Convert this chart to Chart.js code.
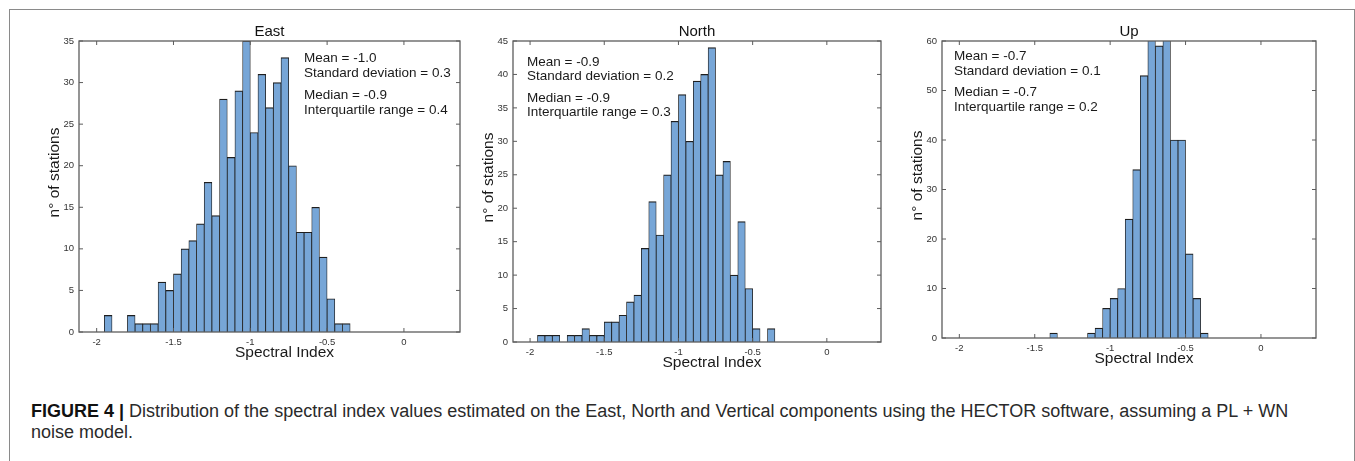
<!DOCTYPE html>
<html>
<head>
<meta charset="utf-8">
<script src="https://cdn.jsdelivr.net/npm/chart.js@4.4.1/dist/chart.umd.min.js"></script>
<style>
  html, body { margin: 0; padding: 0; background: #fff; }
  body { width: 1355px; height: 461px; position: relative; overflow: hidden; font-family: "Liberation Sans", Arial, Helvetica, sans-serif; }
  #frame { position: absolute; left: 9px; top: 9px; width: 1344px; height: 470px; border: 1px solid #8a8a8a; border-bottom: none; }
  canvas { position: absolute; top: 0; }
  #caption { position: absolute; left: 31px; top: 401px; font-size: 18px; line-height: 21px; color: #2a2a2a; white-space: nowrap; }
  #caption b { color: #111; }
</style>
</head>
<body>
<div id="frame"></div>
<canvas id="east"></canvas>
<canvas id="north"></canvas>
<canvas id="up"></canvas>
<div id="caption"><b>FIGURE 4 |</b> Distribution of the spectral index values estimated on the East, North and Vertical components using the HECTOR software, assuming a PL + WN<br>noise model.</div>

<script>
// ===== DATA =====
// left edge of each histogram bin (bin width 0.05)
const binStart = [-1.95, -1.90, -1.85, -1.80, -1.75, -1.70, -1.65, -1.60, -1.55, -1.50, -1.45,
                  -1.40, -1.35, -1.30, -1.25, -1.20, -1.15, -1.10, -1.05, -1.00, -0.95, -0.90,
                  -0.85, -0.80, -0.75, -0.70, -0.65, -0.60, -0.55, -0.50, -0.45, -0.40];
const binWidth = 0.05;

const eastCounts  = [2, 0, 0, 2, 1, 1, 1, 6, 5, 7, 10, 11, 13, 18, 14, 28, 21, 29, 35, 24, 31, 27, 30, 33, 20, 12, 12, 15, 9, 4, 1, 1];
const northCounts = [1, 1, 1, 0, 1, 1, 2, 1, 1, 3, 3, 4, 6, 7, 14, 21, 16, 25, 33, 37, 30, 39, 40, 44, 25, 27, 10, 18, 8, 2, 0, 2];
const upCounts    = [0, 0, 0, 0, 0, 0, 0, 0, 0, 0, 0, 1, 0, 0, 0, 0, 1, 2, 6, 8, 10, 24, 34, 53, 62, 59, 62, 40, 40, 17, 8, 1];

const xTicks = [-2, -1.5, -1, -0.5, 0];
const xRange = [-2.115, 0.365];

const eastStats  = [["Mean = -1.0", "Standard deviation = 0.3"], ["Median = -0.9", "Interquartile range = 0.4"]];
const northStats = [["Mean = -0.9", "Standard deviation = 0.2"], ["Median = -0.9", "Interquartile range = 0.3"]];
const upStats    = [["Mean = -0.7", "Standard deviation = 0.1"], ["Median = -0.7", "Interquartile range = 0.2"]];

const FONT = '"Liberation Sans", Arial, Helvetica, sans-serif';

// ===== MATLAB-LIKE AXES BOX, INWARD TICKS, TEXT =====
const matlabAxes = {
  id: "matlabAxes",
  afterDatasetsDraw(chart) {
    const { ctx, chartArea: a, scales: { x, y } } = chart;
    ctx.save();
    ctx.strokeStyle = "#5c5c5c";
    ctx.lineWidth = 1.3;
    ctx.strokeRect(a.left, a.top, a.right - a.left, a.bottom - a.top);
    ctx.lineWidth = 1;
    ctx.beginPath();
    x.ticks.forEach(t => {
      const px = x.getPixelForValue(t.value);
      ctx.moveTo(px, a.bottom); ctx.lineTo(px, a.bottom - 4);
      ctx.moveTo(px, a.top);    ctx.lineTo(px, a.top + 4);
    });
    y.ticks.forEach(t => {
      const py = y.getPixelForValue(t.value);
      ctx.moveTo(a.left, py);  ctx.lineTo(a.left + 4, py);
      ctx.moveTo(a.right, py); ctx.lineTo(a.right - 4, py);
    });
    ctx.stroke();
    ctx.restore();
  },
  afterDraw(chart, args, opts) {
    const { ctx, chartArea: a } = chart;
    ctx.save();
    ctx.fillStyle = "#1a1a1a";
    ctx.textBaseline = "middle";

    // stats box
    ctx.font = "13.5px " + FONT;
    ctx.textAlign = "left";
    let k = 0;
    opts.stats.forEach(group => group.forEach(line => {
      ctx.fillText(line, a.left + opts.statsX, a.top + opts.statsY[k++]);
    }));

    // axis titles
    ctx.font = "15.5px " + FONT;
    ctx.textAlign = "center";
    ctx.fillText("Spectral Index", (a.left + a.right) / 2 + 15, a.bottom + 21);
    ctx.translate(a.left - 24, (a.top + a.bottom) / 2 - 14);
    ctx.rotate(-Math.PI / 2);
    ctx.fillText("n\u00b0 of stations", 0, 0);
    ctx.restore();
  }
};

function makePanel(id, title, counts, yMax, yStep, stats, box) {
  const canvas = document.getElementById(id);
  canvas.width = box.R - box.L + 70;
  canvas.height = box.B + 40;
  canvas.style.left = (box.L - 60) + "px";

  const points = binStart.map((b, i) => ({ x: b + binWidth / 2, y: counts[i] > 0 ? counts[i] : null }));

  return new Chart(canvas.getContext("2d"), {
    type: "bar",
    data: {
      datasets: [{
        data: points,
        backgroundColor: "#77a6d7",
        borderColor: "#1e1e1e",
        borderWidth: { left: 0.8, right: 0.8, top: 1.2, bottom: 0 },
        borderSkipped: false,
        barPercentage: 1,
        categoryPercentage: 1,
        clip: 0
      }]
    },
    plugins: [matlabAxes],
    options: {
      responsive: false,
      animation: false,
      events: [],
      layout: { padding: { left: 0, right: 10, top: box.T - 18, bottom: 0 } },
      scales: {
        x: {
          type: "linear",
          offset: false,
          min: xRange[0],
          max: xRange[1],
          afterBuildTicks: s => { s.ticks = xTicks.map(v => ({ value: v })); },
          afterFit: s => { s.height = 40; },
          grid: { display: false, drawTicks: false, offset: false },
          border: { display: false },
          ticks: {
            padding: 5,
            color: "#333",
            font: { family: FONT, size: 9.5 },
            maxRotation: 0,
            callback: v => String(v)
          }
        },
        y: {
          min: 0,
          max: yMax,
          afterFit: s => { s.width = 60; },
          grid: { display: false, drawTicks: false },
          border: { display: false },
          ticks: {
            stepSize: yStep,
            padding: 5,
            color: "#333",
            font: { family: FONT, size: 9.5 }
          }
        }
      },
      plugins: {
        legend: { display: false },
        tooltip: { enabled: false },
        title: {
          display: true,
          text: title,
          fullSize: false,
          color: "#111",
          font: { family: FONT, size: 15, weight: "normal" },
          padding: 0
        },
        matlabAxes: { stats: stats, statsX: box.sx, statsY: box.sy }
      }
    }
  });
}

document.addEventListener("DOMContentLoaded", function () {
  makePanel("east", "East", eastCounts, 35, 5, eastStats,
    { L: 79, R: 460, T: 41, B: 332, sx: 225, sy: [17, 32, 54, 69] });
  makePanel("north", "North", northCounts, 45, 5, northStats,
    { L: 513, R: 881, T: 41, B: 342, sx: 14, sy: [21.5, 35.5, 57, 71] });
  makePanel("up", "Up", upCounts, 60, 10, upStats,
    { L: 942, R: 1316, T: 41, B: 338, sx: 12, sy: [15, 30.5, 51.5, 66.5] });
});
</script>
</body>
</html>
